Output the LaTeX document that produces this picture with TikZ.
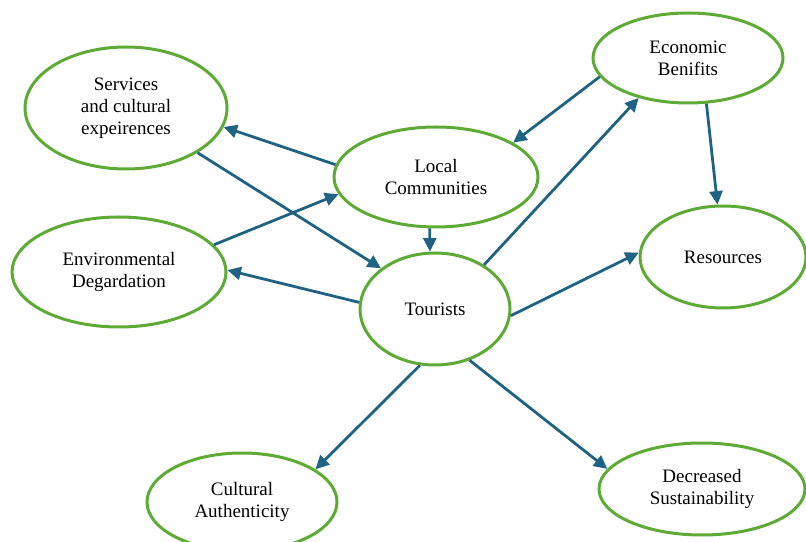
\documentclass[tikz,border=0pt]{standalone}
\usepackage{fontspec}
\setmainfont{Liberation Serif}
\usetikzlibrary{arrows.meta,shapes.geometric,positioning}

\definecolor{factorgreen}{HTML}{5DAA35}
\definecolor{linkblue}{HTML}{1F6284}

\tikzset{
  factor/.style={ellipse,draw=factorgreen,line width=3pt,inner sep=0pt,
    align=center,font=\fontsize{19}{22}\selectfont},
  link/.style={draw=linkblue,line width=2.8pt}
}

\begin{document}
\begin{tikzpicture}[x=1pt,y=1pt,>={Triangle[length=13.5pt,width=13pt]},link]

                \useasboundingbox (0,0) rectangle (806,541);

                \node[factor,minimum width=202pt,minimum height=122pt] (services) at (126,433) {Services\\and cultural\\expeirences};

                \node[factor,minimum width=214pt,minimum height=110pt] (envir) at (119,269) {Environmental\\Degardation};

                \node[factor,minimum width=204pt,minimum height=100pt] (local) at (436,364) {Local\\Communities};

                \node[factor,minimum width=150pt,minimum height=112pt] (tourists) at (435,232) {Tourists};

                \node[factor,minimum width=190pt,minimum height=90pt] (economic) at (688,483) {Economic\\Benifits};

                \node[factor,minimum width=166pt,minimum height=102pt] (resources) at (723,284) {Resources};

                \node[factor,minimum width=190pt,minimum height=98pt] (cultural) at (242,39) {Cultural\\Authenticity};

                \node[factor,minimum width=206pt,minimum height=92pt] (decreased) at (702,52) {Decreased\\Sustainability};

                

                \path[->] (local.173) edge (services.-11);

                \path[->] (services.-32.5) edge (tourists.143);

                \path[->] (envir.16) edge (local.190);

                \path[->] (tourists.175) edge (envir.1);

                \path[->] (local.263) edge (tourists.95);

                \path[->] (economic.192.5) edge (local.24);

                \path[->] (tourists.42) edge (economic.219);

                \path[->] (economic.-68) edge (resources.96.5);

                \path[->] (tourists.-5) edge (resources.177);

                \path[->] (tourists.255) edge (cultural.24.6);

                \path[->] (tourists.-56.6) edge (decreased.168);

            \end{tikzpicture}
\end{document}
